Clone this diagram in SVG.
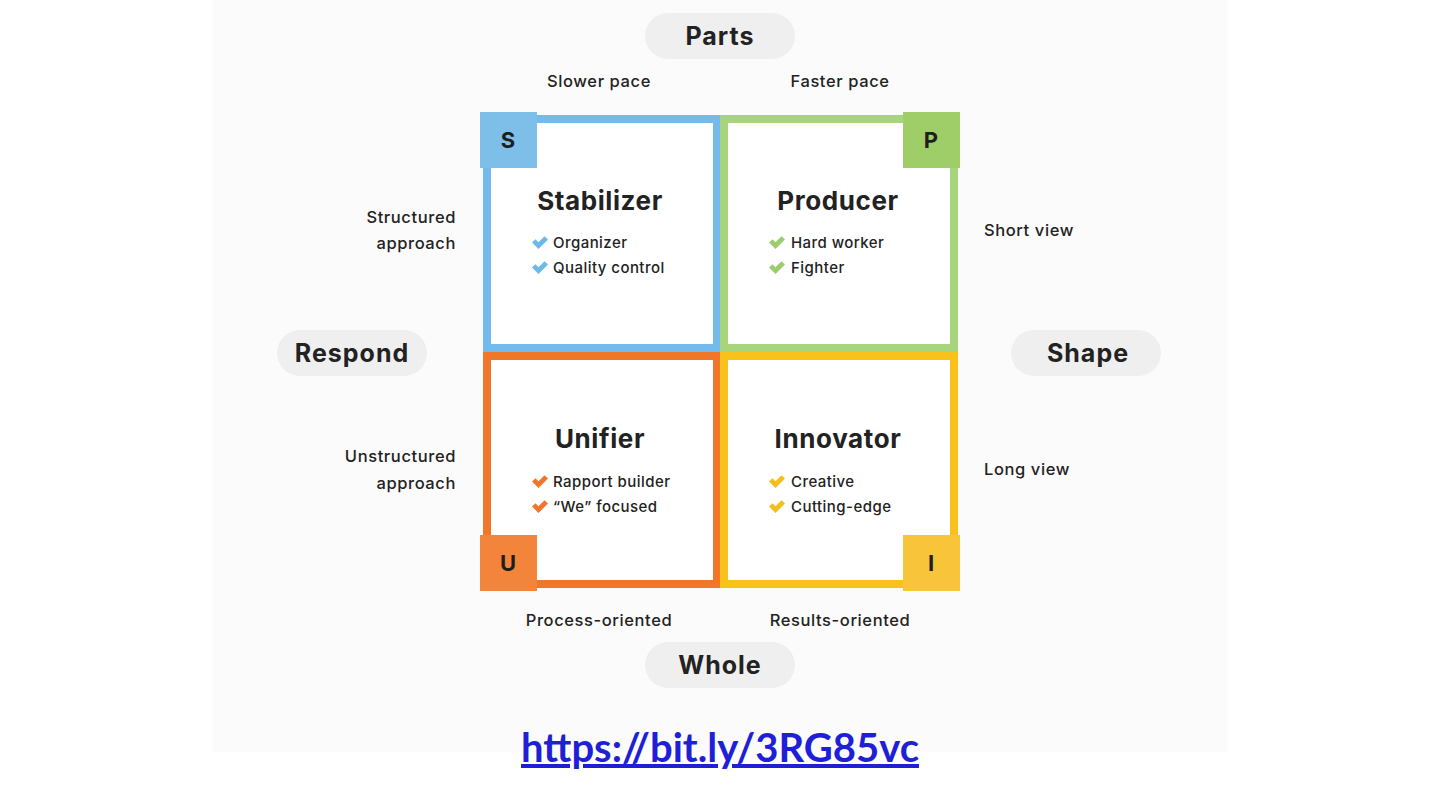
<svg xmlns="http://www.w3.org/2000/svg" width="1440" height="810" viewBox="0 0 1440 810">
<style>
.t{font-family:Inter,"Noto Sans",sans-serif;fill:#222;}
.title{font-size:26px;font-weight:700;text-anchor:middle;letter-spacing:0.6px;}
.item{font-size:15px;font-weight:500;letter-spacing:0.45px;}
.side{font-size:16.5px;font-weight:500;letter-spacing:0.6px;}
.pilltxt{font-size:25px;font-weight:700;text-anchor:middle;letter-spacing:1px;}
.badge{font-size:22px;font-weight:700;text-anchor:middle;fill:#1e1e1e;font-family:Inter,"Noto Sans",sans-serif;}
.pill{fill:#efefef;}
</style>
<defs>
<path id="chk" d="M0,5.5 L3.5,2.2 L6.5,5.2 L12.5,-0.8 L16,2.5 L6.5,12 Z"/>
</defs>
<rect x="0" y="0" width="1440" height="810" fill="#ffffff"/>
<rect x="213" y="0" width="1014" height="752" fill="#fbfbfb"/>

<g id="parts">
<rect class="pill" x="645" y="13" width="150" height="46" rx="23"/>
<text class="t pilltxt" x="720" y="45">Parts</text>
</g>
<g id="whole">
<rect class="pill" x="645" y="642" width="150" height="46" rx="23"/>
<text class="t pilltxt" x="720" y="674">Whole</text>
</g>
<g id="respond">
<rect class="pill" x="277" y="330" width="150" height="46" rx="23"/>
<text class="t pilltxt" x="352" y="362">Respond</text>
</g>
<g id="shape">
<rect class="pill" x="1011" y="330" width="150" height="46" rx="23"/>
<text class="t pilltxt" x="1088" y="362">Shape</text>
</g>

<g id="axis-labels">
<text class="t side" x="599" y="87" text-anchor="middle">Slower pace</text>
<text class="t side" x="840" y="87" text-anchor="middle">Faster pace</text>
<text class="t side" x="456" y="223" text-anchor="end">Structured</text>
<text class="t side" x="456" y="249" text-anchor="end">approach</text>
<text class="t side" x="456" y="462" text-anchor="end">Unstructured</text>
<text class="t side" x="456" y="489" text-anchor="end">approach</text>
<text class="t side" x="984" y="236">Short view</text>
<text class="t side" x="984" y="475">Long view</text>
<text class="t side" x="599" y="626" text-anchor="middle">Process-oriented</text>
<text class="t side" x="840" y="626" text-anchor="middle">Results-oriented</text>
</g>

<g id="stabilizer">
<rect x="487" y="119" width="230" height="229" fill="#ffffff" stroke="#72bbec" stroke-width="8"/>
<rect x="480" y="112" width="57" height="56" fill="#7dbfe9"/>
<text class="badge" x="508" y="148">S</text>
<text class="t title" x="600" y="210">Stabilizer</text>
<use href="#chk" x="532" y="237" fill="#6cb9e8"/>
<text class="t item" x="553" y="248">Organizer</text>
<use href="#chk" x="532" y="262" fill="#6cb9e8"/>
<text class="t item" x="553" y="273">Quality control</text>
</g>

<g id="producer">
<rect x="724" y="119" width="230" height="229" fill="#ffffff" stroke="#a8d47c" stroke-width="8"/>
<rect x="903" y="112" width="57" height="56" fill="#9fcd68"/>
<text class="badge" x="931" y="148">P</text>
<text class="t title" x="838" y="210">Producer</text>
<use href="#chk" x="769" y="237" fill="#9ccd6c"/>
<text class="t item" x="791" y="248">Hard worker</text>
<use href="#chk" x="769" y="262" fill="#9ccd6c"/>
<text class="t item" x="791" y="273">Fighter</text>
</g>

<g id="unifier">
<rect x="487" y="356" width="230" height="228" fill="#ffffff" stroke="#f0762a" stroke-width="8"/>
<rect x="480" y="535" width="57" height="56" fill="#f2843c"/>
<text class="badge" x="508" y="571">U</text>
<text class="t title" x="600" y="448">Unifier</text>
<use href="#chk" x="532" y="476" fill="#f0762a"/>
<text class="t item" x="553" y="487">Rapport builder</text>
<use href="#chk" x="532" y="501" fill="#f0762a"/>
<text class="t item" x="553" y="512">“We” focused</text>
</g>

<g id="innovator">
<rect x="724" y="356" width="230" height="228" fill="#ffffff" stroke="#f8c11c" stroke-width="8"/>
<rect x="903" y="535" width="57" height="56" fill="#f8c53a"/>
<text class="badge" x="931" y="571">I</text>
<text class="t title" x="838" y="448">Innovator</text>
<use href="#chk" x="769" y="476" fill="#f6be1a"/>
<text class="t item" x="791" y="487">Creative</text>
<use href="#chk" x="769" y="501" fill="#f6be1a"/>
<text class="t item" x="791" y="512">Cutting-edge</text>
</g>

<g id="connectors"></g>

<g id="link">
<text x="720" y="762" text-anchor="middle" font-family="Lato,'Liberation Sans',sans-serif" font-weight="700" font-size="40" fill="#1f1fd8" text-decoration="underline">https://bit.ly/3RG85vc</text>
</g>
</svg>
